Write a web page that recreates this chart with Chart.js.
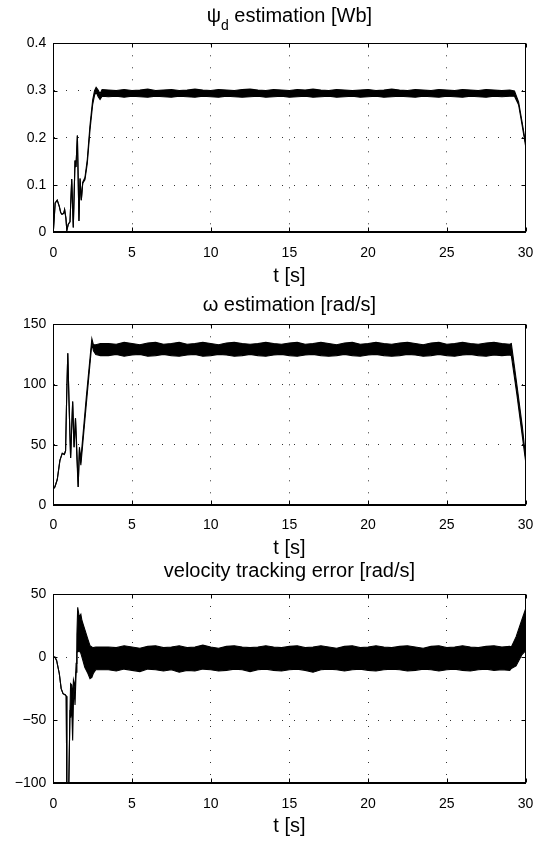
<!DOCTYPE html>
<html>
<head>
<meta charset="utf-8">
<script src="https://cdn.jsdelivr.net/npm/chart.js@4.4.0/dist/chart.umd.min.js"></script>
<style>
  html, body { margin: 0; padding: 0; background: #fff; }
  #wrap { position: relative; width: 535px; height: 843px; }
  canvas { position: absolute; left: 0; }
</style>
</head>
<body>
<div id="wrap">
  <canvas id="psiChart" width="535" height="290" style="top:0px"></canvas>
  <canvas id="omegaChart" width="535" height="270" style="top:290px"></canvas>
  <canvas id="errChart" width="535" height="283" style="top:560px"></canvas>
</div>
<script>
// time axis ticks, shared by the three plots
const xTicks = [0, 5, 10, 15, 20, 25, 30];

// steady part of every run: sample times of the band envelope
const bandT = [3.5, 4, 4.5, 5, 5.5, 6, 6.5, 7, 7.5, 8,
               8.5, 9, 9.5, 10, 10.5, 11, 11.5, 12, 12.5, 13,
               13.5, 14, 14.5, 15, 15.5, 16, 16.5, 17, 17.5, 18,
               18.5, 19, 19.5, 20, 20.5, 21, 21.5, 22, 22.5, 23,
               23.5, 24, 24.5, 25, 25.5, 26, 26.5, 27, 27.5, 28,
               28.5, 29];

// psi_d estimation [Wb]
const psiHeadT  = [0, 0.12, 0.25, 0.38, 0.47, 0.55, 0.66, 0.72, 0.8, 0.86, 0.95, 1.06, 1.17, 1.27, 1.38, 1.44,
                   1.53, 1.63, 1.70, 1.78, 1.87, 2.01, 2.16, 2.33, 2.50, 2.62, 2.72, 2.85, 2.97, 3.1];
const psiHeadUp = [0, 0.062, 0.068, 0.055, 0.042, 0.038, 0.040, 0.048, 0.030, 0.004, 0.017, 0.022, 0.113, 0.010, 0.152, 0.138,
                   0.205, 0.024, 0.114, 0.068, 0.106, 0.116, 0.154, 0.226, 0.280, 0.300, 0.307, 0.301, 0.293, 0.302];
const psiHeadLo = [0, 0.062, 0.068, 0.055, 0.042, 0.038, 0.040, 0.048, 0.030, 0.004, 0.017, 0.022, 0.113, 0.010, 0.152, 0.138,
                   0.205, 0.024, 0.114, 0.068, 0.104, 0.111, 0.146, 0.216, 0.270, 0.290, 0.297, 0.287, 0.281, 0.288];
const psiBandUp = [.301, .300, .302, .300, .301, .303, .300, .301, .302, .300,
                   .301, .303, .301, .300, .302, .301, .300, .302, .303, .301,
                   .300, .302, .301, .300, .302, .301, .303, .301, .300, .302,
                   .301, .300, .301, .302, .300, .301, .303, .301, .300, .302,
                   .301, .300, .302, .301, .300, .302, .301, .300, .302, .301,
                   .300, .301];
const psiBandLo = [.287, .288, .286, .288, .287, .286, .288, .287, .286, .288,
                   .287, .286, .288, .287, .286, .288, .287, .286, .287, .288,
                   .286, .287, .288, .286, .287, .288, .286, .287, .288, .286,
                   .287, .288, .286, .287, .288, .286, .287, .288, .287, .286,
                   .288, .287, .286, .288, .287, .286, .288, .287, .286, .288,
                   .287, .288];
const psiTailT  = [29.3, 29.56, 29.78, 30];
const psiTailUp = [0.299, 0.276, 0.234, 0.190];
const psiTailLo = [0.288, 0.270, 0.228, 0.184];
const psiYTicks = [0, 0.1, 0.2, 0.3, 0.4];

// omega estimation [rad/s]
const omegaHeadT  = [0, 0.1, 0.25, 0.42, 0.57, 0.7, 0.78, 0.85, 0.92, 1.0, 1.1, 1.23, 1.32, 1.41, 1.5, 1.58,
                     1.66, 1.75, 2.1, 2.45, 2.55, 2.7, 3.0];
const omegaHeadUp = [13.3, 15, 21, 37, 43, 42, 45, 90, 126, 85, 39, 86, 48, 72, 45, 15,
                     48, 38, 90, 138, 133, 133, 134];
const omegaHeadLo = [13.3, 15, 21, 37, 43, 42, 45, 90, 126, 85, 39, 86, 48, 72, 38, 15,
                     46, 33, 84, 134, 128, 125, 124];
const omegaBandUp = [134, 133.5, 135, 134, 133, 134.5, 135, 133.5, 134, 135,
                     133.5, 134, 135, 134, 133, 134.5, 135, 134, 133.5, 134,
                     135, 134, 133.5, 134.5, 135, 133.5, 134, 135, 134, 133,
                     134.5, 135, 133.5, 134, 135, 134, 133.5, 134.5, 135, 134,
                     133, 134.5, 135, 133.5, 134, 135, 134, 133.5, 134.5, 135,
                     134, 133.5];
const omegaBandLo = [124, 125, 123.5, 124.5, 125, 123.5, 124, 125, 124, 123.5,
                     124.5, 125, 123.5, 124, 125, 124.5, 123.5, 124, 125, 124,
                     123.5, 124.5, 125, 124, 123.5, 124.5, 125, 124, 123.5, 124,
                     125, 124, 123.5, 124.5, 125, 124, 123.5, 124, 125, 124.5,
                     123.5, 124, 125, 124, 123.5, 124.5, 125, 124, 123.5, 124.5,
                     124, 124.5];
const omegaTailT  = [29.1, 29.45, 29.8, 30];
const omegaTailUp = [134, 100, 65, 40];
const omegaTailLo = [124, 92, 57, 37];
const omegaYTicks = [0, 50, 100, 150];

// velocity tracking error [rad/s]
const errHeadT  = [0, 0.1, 0.21, 0.38, 0.5, 0.62, 0.77, 0.82, 0.86, 0.92, 0.98, 1.06, 1.1, 1.17, 1.23, 1.28,
                   1.32, 1.38, 1.45, 1.5, 1.55, 1.65, 1.75, 1.82, 2.0, 2.2, 2.33, 2.45, 2.54, 2.7, 3.0];
const errHeadUp = [0, 0, -2.6, -13, -25, -29, -30, -31, -105, -140, -105, -42, -21, -22, -32, -18,
                   -20, -25, -5, 18, 39.5, 32, 34, 29, 22, 14, 9, 8, 7.5, 8, 8];
const errHeadLo = [0, 0, -2.6, -13, -25, -29, -30, -31, -105, -140, -105, -42, -48, -40, -66, -35,
                   -24, -38, -12, 4, 4, 5, 3, 0, -8, -13, -17, -16, -13, -10, -10];
const errBandUp = [8, 7.5, 9, 8, 7, 8.5, 9, 7.5, 8, 9,
                   7.5, 8, 9.5, 8, 7, 8.5, 9, 8, 7.5, 8,
                   9, 8, 7.5, 8.5, 9, 7.5, 8, 9, 8, 7,
                   8.5, 9, 7.5, 8, 9, 8, 7.5, 8.5, 9, 8,
                   7, 8.5, 9, 7.5, 8, 9, 8, 7.5, 8.5, 9,
                   8, 8.5];
const errBandLo = [-10, -11, -9.5, -10.5, -11.5, -9.5, -10, -11, -10, -12,
                   -10.5, -11, -9.5, -10, -11, -10.5, -9.5, -10, -11.5, -10,
                   -9.5, -10.5, -11, -10, -9.5, -10.5, -12, -10, -9.5, -10,
                   -11, -10, -9.5, -10.5, -11, -10, -9.5, -10, -11, -10.5,
                   -9.5, -10, -11, -10, -9.5, -10.5, -11, -10, -9.5, -10.5,
                   -10, -10.5];
const errTailT  = [29.1, 29.4, 29.78, 30];
const errTailUp = [8, 16, 30, 38];
const errTailLo = [-9, -7, 2, 5];
const errYTicks = [-100, -50, 0, 50];

const fontFamily = '"Liberation Sans", Arial, Helvetica, sans-serif';
const labelSize = 20;

function series(t, y) {
    return t.map((x, i) => ({ x: x, y: y[i] }));
}

// black frame round the axes with short inward tick marks, like a MATLAB figure
const boxPlugin = {
    id: 'matlabBox',
    afterDatasetsDraw(chart) {
        const { ctx, chartArea: a, scales } = chart;
        const L = Math.round(a.left) + 0.5, R = Math.round(a.right) - 0.5;
        const T = Math.round(a.top) + 0.5, B = Math.round(a.bottom) - 0.5;
        ctx.save();
        ctx.strokeStyle = '#000';
        ctx.lineWidth = 1;
        ctx.strokeRect(L, T, R - L, B - T);
        ctx.beginPath();
        scales.x.ticks.forEach(tk => {
            const px = Math.round(scales.x.getPixelForValue(tk.value)) + 0.5;
            ctx.moveTo(px, B); ctx.lineTo(px, B - 4);
            ctx.moveTo(px, T); ctx.lineTo(px, T + 4);
        });
        scales.y.ticks.forEach(tk => {
            const py = Math.round(scales.y.getPixelForValue(tk.value)) + 0.5;
            ctx.moveTo(L, py); ctx.lineTo(L + 4, py);
            ctx.moveTo(R, py); ctx.lineTo(R - 4, py);
        });
        ctx.stroke();
        ctx.restore();
    }
};

// title with an optional subscript part
const titlePlugin = {
    id: 'subTitle',
    afterDraw(chart, args, opts) {
        const { ctx, chartArea: a } = chart;
        const parts = opts.parts || [];
        ctx.save();
        ctx.fillStyle = '#000';
        ctx.textBaseline = 'alphabetic';
        ctx.textAlign = 'left';
        const widths = parts.map(p => {
            ctx.font = (p.sub ? 14 : labelSize) + 'px ' + fontFamily;
            return ctx.measureText(p.text).width;
        });
        const total = widths.reduce((s, w) => s + w, 0);
        let x = (a.left + a.right) / 2 - total / 2;
        const y = a.top - opts.gap;
        parts.forEach((p, i) => {
            ctx.font = (p.sub ? 14 : labelSize) + 'px ' + fontFamily;
            ctx.fillText(p.text, x, y + (p.sub ? 8 : 0));
            x += widths[i];
        });
        ctx.restore();
    }
};

function minusLabel(v) {
    return v < 0 ? '\u2212' + (-v) : String(v);
}

function makeChart(id, cfg) {
    const t = [...cfg.headT, ...bandT, ...cfg.tailT];
    const up = [...cfg.headUp, ...cfg.bandUp, ...cfg.tailUp];
    const lo = [...cfg.headLo, ...cfg.bandLo, ...cfg.tailLo];
    return new Chart(document.getElementById(id), {
        type: 'line',
        data: {
            datasets: [
                { data: series(t, up), borderColor: '#000', borderWidth: 1.1, pointRadius: 0, tension: 0, fill: false },
                { data: series(t, lo), borderColor: '#000', borderWidth: 1.1, pointRadius: 0, tension: 0,
                  fill: '-1', backgroundColor: '#000' }
            ]
        },
        options: {
            responsive: false,
            animation: false,
            events: [],
            layout: { padding: { top: cfg.padTop, right: 9.5, left: 0, bottom: 0 } },
            plugins: {
                legend: { display: false },
                tooltip: { enabled: false },
                subTitle: { parts: cfg.title, gap: cfg.gap }
            },
            scales: {
                x: {
                    type: 'linear',
                    min: 0,
                    max: 30,
                    afterFit: s => { s.height = cfg.xHeight; s.paddingLeft = 0; s.paddingRight = 0; },
                    afterBuildTicks: s => { s.ticks = xTicks.map(v => ({ value: v })); },
                    ticks: { padding: 12, color: '#000', maxRotation: 0, font: { family: fontFamily, size: 14 } },
                    grid: { color: '#333', lineWidth: 1, drawTicks: false, tickLength: 0 },
                    border: { color: '#000', dash: [1, 11] },
                    title: {
                        display: true, text: 't [s]', color: '#000',
                        font: { family: fontFamily, size: labelSize },
                        padding: { top: 0, bottom: cfg.xTitlePad }
                    }
                },
                y: {
                    min: cfg.yTicks[0],
                    max: cfg.yTicks[cfg.yTicks.length - 1],
                    afterFit: s => { s.width = 53.3; },
                    afterBuildTicks: s => { s.ticks = cfg.yTicks.map(v => ({ value: v })); },
                    ticks: { padding: 7, color: '#000', font: { family: fontFamily, size: 14 }, callback: minusLabel },
                    grid: { color: '#333', lineWidth: 1, drawTicks: false, tickLength: 0 },
                    border: { color: '#000', dash: [1, 11] }
                }
            }
        },
        plugins: [boxPlugin, titlePlugin]
    });
}

makeChart('psiChart', {
    headT: psiHeadT, headUp: psiHeadUp, headLo: psiHeadLo,
    bandUp: psiBandUp, bandLo: psiBandLo,
    tailT: psiTailT, tailUp: psiTailUp, tailLo: psiTailLo,
    yTicks: psiYTicks,
    title: [{ text: '\u03C8' }, { text: 'd', sub: true }, { text: ' estimation [Wb]' }],
    gap: 21.6, padTop: 43.3, xHeight: 57.7, xTitlePad: 1.7
});

makeChart('omegaChart', {
    headT: omegaHeadT, headUp: omegaHeadUp, headLo: omegaHeadLo,
    bandUp: omegaBandUp, bandLo: omegaBandLo,
    tailT: omegaTailT, tailUp: omegaTailUp, tailLo: omegaTailLo,
    yTicks: omegaYTicks,
    title: [{ text: '\u03C9 estimation [rad/s]' }],
    gap: 13.6, padTop: 34.3, xHeight: 55, xTitlePad: 0
});

makeChart('errChart', {
    headT: errHeadT, headUp: errHeadUp, headLo: errHeadLo,
    bandUp: errBandUp, bandLo: errBandLo,
    tailT: errTailT, tailUp: errTailUp, tailLo: errTailLo,
    yTicks: errYTicks,
    title: [{ text: 'velocity tracking error [rad/s]' }],
    gap: 16.7, padTop: 34, xHeight: 59.7, xTitlePad: 4.7
});
</script>
</body>
</html>
